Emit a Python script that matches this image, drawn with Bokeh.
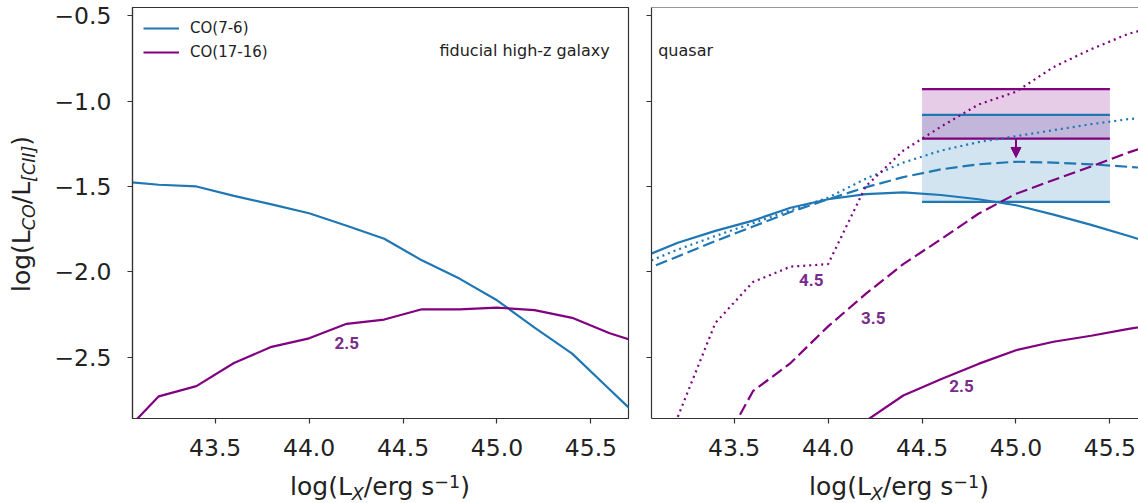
import math
from bokeh.plotting import figure
from bokeh.layouts import row, column
from bokeh.models import (Label, Legend, LegendItem, FixedTicker, CustomJSTickFormatter,
                          Arrow, NormalHead, Span, Range1d, Div)
from bokeh.embed import file_html
from bokeh.resources import INLINE

NaN = float("nan")

# ---------------- data ----------------
log_lx = [43.0, 43.2, 43.4, 43.6, 43.8, 44.0, 44.2, 44.4, 44.6, 44.8, 45.0, 45.2, 45.4, 45.6, 45.8]

# fiducial high-z galaxy
fid_co76 = [-1.47, -1.49, -1.50, -1.555, -1.605, -1.657, -1.73, -1.806, -1.933, -2.04, -2.167, -2.327, -2.48, -2.69, -2.90]
fid_co1716 = [-2.96, -2.73, -2.67, -2.535, -2.44, -2.39, -2.305, -2.28, -2.22, -2.22, -2.21, -2.225, -2.27, -2.36, -2.43]

# quasar (solid = 2.5, dashed = 3.5, dotted = 4.5)
q_co76_25 = [-1.92, -1.83, -1.76, -1.70, -1.625, -1.575, -1.545, -1.535, -1.55, -1.575, -1.61, -1.665, -1.725, -1.79, -1.86]
q_co76_35 = [-2.00, -1.91, -1.82, -1.735, -1.65, -1.575, -1.505, -1.445, -1.40, -1.37, -1.355, -1.36, -1.37, -1.385, -1.40]
q_co76_45 = [-1.96, -1.87, -1.79, -1.715, -1.64, -1.565, -1.455, -1.36, -1.29, -1.24, -1.205, -1.17, -1.135, -1.105, -1.09]
q_co1716_25 = [NaN, NaN, NaN, NaN, NaN, -3.05, -2.875, -2.725, -2.63, -2.54, -2.46, -2.41, -2.375, -2.335, -2.30]
q_co1716_35 = [NaN, NaN, -3.10, -2.70, -2.535, -2.32, -2.13, -1.955, -1.81, -1.66, -1.543, -1.462, -1.383, -1.30, -1.23]
q_co1716_45 = [NaN, -2.85, -2.30, -2.06, -1.97, -1.955, -1.50, -1.29, -1.15, -1.02, -0.945, -0.80, -0.695, -0.605, -0.545]

# observed quasar constraints
obs_x = [44.5, 45.5]
obs_co76 = [-1.59, -1.08]
obs_co1716 = [-1.22, -0.93]
obs_limit_x = 45.0
obs_limit_tip = -1.33

# inline curve labels
left_lab_text = ["2.5"]
left_lab_x = [44.20]
left_lab_y = [-2.42]
right_lab_text = ["4.5", "3.5", "2.5"]
right_lab_x = [43.91, 44.24, 44.71]
right_lab_y = [-2.05, -2.27, -2.67]

x_ticks = [43.5, 44.0, 44.5, 45.0, 45.5]
y_ticks = [-2.5, -2.0, -1.5, -1.0, -0.5]
X_LO, X_HI = 43.06, 45.70
Y_LO, Y_HI = -2.86, -0.451

legend_labels = ["CO(7-6)", "CO(17-16)"]
panel_titles = ["fiducial high-z galaxy", "quasar"]

# ---------------- style ----------------
FONT = "DejaVu Sans"
BLUE = "#1f77b4"
PURPLE = "#800080"
LABPURPLE = "#7a2a8a"
FRAME = "#333333"
TXT = "#222222"
LW = 2.2

FRAME_TOP = 7
FRAME_H = 411
BOTTOM = 50
SX = 496 / (X_HI - X_LO)          # px per x unit
SY = FRAME_H / (Y_HI - Y_LO)      # px per y unit
YDIV_W = 48


def py2y(py):
    return Y_HI - (py - FRAME_TOP) / SY


def make_fig(frame_left_page, frame_w, b_left, b_right):
    xr_hi = X_LO + frame_w / SX
    p = figure(frame_width=frame_w, frame_height=FRAME_H,
               x_range=Range1d(X_LO, xr_hi), y_range=Range1d(Y_LO, Y_HI),
               min_border_left=b_left, min_border_right=b_right,
               min_border_top=FRAME_TOP, min_border_bottom=BOTTOM,
               output_backend="svg", toolbar_location=None)
    p.grid.visible = False
    for ax in list(p.xaxis) + list(p.yaxis):
        ax.major_tick_in = 0
        ax.major_tick_out = 5
        ax.minor_tick_line_color = None
        ax.major_tick_line_color = FRAME
        ax.major_tick_line_width = 1.2
        ax.axis_line_color = FRAME
        ax.axis_line_width = 1.2
        ax.major_label_text_font = FONT
        ax.major_label_text_font_size = "23.5px"
        ax.major_label_text_color = TXT
    p.xaxis.ticker = FixedTicker(ticks=x_ticks)
    p.xaxis.formatter = CustomJSTickFormatter(code="return tick.toFixed(1);")
    p.xaxis.major_label_standoff = 15
    p.yaxis.ticker = FixedTicker(ticks=y_ticks)

    def px2x(px):
        return X_LO + (px - frame_left_page) / SX

    return p, px2x


# ---------------- left panel ----------------
p1, px2x1 = make_fig(132, 496, 132 - YDIV_W, 3)
p1.outline_line_color = FRAME
p1.outline_line_width = 1.2
p1.yaxis.formatter = CustomJSTickFormatter(code="return tick.toFixed(1).replace('-', '\u2212');")
p1.yaxis.major_label_standoff = 16

r1 = p1.line(log_lx, fid_co76, line_color=BLUE, line_width=LW)
r2 = p1.line(log_lx, fid_co1716, line_color=PURPLE, line_width=LW)

legend = Legend(items=[LegendItem(label=legend_labels[0], renderers=[r1]),
                       LegendItem(label=legend_labels[1], renderers=[r2])],
                location="top_left", border_line_color=None, background_fill_alpha=0,
                label_text_font=FONT, label_text_font_size="15px", label_text_color=TXT,
                glyph_width=36, glyph_height=20, label_height=20, spacing=4,
                padding=6, margin=11, label_standoff=11)
p1.add_layout(legend)

p1.add_layout(Label(x=45.60, y=py2y(50), text=panel_titles[0], text_font=FONT,
                    text_font_size="16px", text_color=TXT, text_align="right",
                    text_baseline="alphabetic"))

for t, x, y in zip(left_lab_text, left_lab_x, left_lab_y):
    p1.add_layout(Label(x=x, y=y, text=t, text_font="Roboto", text_font_style="bold",
                        text_font_size="17px", text_color=LABPURPLE,
                        text_align="center", text_baseline="middle"))

# ---------------- right panel ----------------
p2, px2x2 = make_fig(651, 487, 20, 0)
p2.outline_line_color = None
p2.yaxis.formatter = CustomJSTickFormatter(code="return '';")
p2.yaxis.major_label_standoff = 0
p2.add_layout(Span(location=Y_HI, dimension="width", line_color=FRAME, line_width=1.2))

p2.quad(left=[obs_x[0]], right=[obs_x[1]], bottom=[obs_co76[0]], top=[obs_co76[1]],
        fill_color=BLUE, fill_alpha=0.2, line_color=None)
p2.quad(left=[obs_x[0]], right=[obs_x[1]], bottom=[obs_co1716[0]], top=[obs_co1716[1]],
        fill_color=PURPLE, fill_alpha=0.2, line_color=None)
p2.segment(x0=[obs_x[0]] * 2, x1=[obs_x[1]] * 2, y0=obs_co76, y1=obs_co76,
           line_color=BLUE, line_width=LW)
p2.segment(x0=[obs_x[0]] * 2, x1=[obs_x[1]] * 2, y0=obs_co1716, y1=obs_co1716,
           line_color=PURPLE, line_width=LW)
p2.add_layout(Arrow(x_start=obs_limit_x, y_start=obs_co1716[0], x_end=obs_limit_x, y_end=obs_limit_tip,
                    line_color=PURPLE, line_width=2,
                    end=NormalHead(size=10, fill_color=PURPLE, line_color=PURPLE, line_width=1)))

p2.line(log_lx, q_co76_25, line_color=BLUE, line_width=LW)
p2.line(log_lx, q_co76_35, line_color=BLUE, line_width=LW, line_dash="12 5")
p2.line(log_lx, q_co76_45, line_color=BLUE, line_width=LW, line_dash="2 4")
p2.line(log_lx, q_co1716_25, line_color=PURPLE, line_width=LW)
p2.line(log_lx, q_co1716_35, line_color=PURPLE, line_width=LW, line_dash="12 5")
p2.line(log_lx, q_co1716_45, line_color=PURPLE, line_width=LW, line_dash="2 4")

for t, x, y in zip(right_lab_text, right_lab_x, right_lab_y):
    p2.add_layout(Label(x=x, y=y, text=t, text_font="Roboto", text_font_style="bold",
                        text_font_size="17px", text_color=LABPURPLE,
                        text_align="center", text_baseline="middle"))

p2.add_layout(Label(x=px2x2(657.7), y=py2y(50), text=panel_titles[1], text_font=FONT,
                    text_font_size="16px", text_color=TXT, text_align="left",
                    text_baseline="alphabetic"))

# ---------------- axis labels (HTML, with sub/superscripts) ----------------
BASE = "font-family:'DejaVu Sans';font-size:25px;line-height:25px;color:#222222;white-space:nowrap;"
SUB = "font-size:17.5px;font-style:italic;position:relative;top:5px;"
SUP = "font-size:17.5px;position:relative;top:-7px;"

xlabel_html = ("log(L<span style=\"" + SUB + "\">X</span>/erg s"
               "<span style=\"" + SUP + "\">\u22121</span>)")
ylabel_html = ("log(L<span style=\"" + SUB + "\">CO</span>/L"
               "<span style=\"" + SUB + "\">[CII]</span>)")

H_TOP = FRAME_TOP + FRAME_H + BOTTOM

ydiv = Div(width=YDIV_W, height=H_TOP, margin=(0, 0, 0, 0),
           text=("<div style=\"width:46px;height:428px;display:flex;align-items:center;"
                 "justify-content:center;\"><span style=\"display:inline-block;"
                 "transform:rotate(-90deg);" + BASE + "\">" + ylabel_html + "</span></div>"))

xdiv1 = Div(width=640, height=503 - H_TOP, margin=(0, 0, 0, 0),
            text=("<div style=\"margin-left:120px;width:520px;text-align:center;padding-top:6px;"
                  + BASE + "\">" + xlabel_html + "</div>"))
xdiv2 = Div(width=498, height=503 - H_TOP, margin=(0, 0, 0, 0),
            text=("<div style=\"margin-left:20px;width:478px;text-align:center;padding-top:6px;"
                  + BASE + "\">" + xlabel_html + "</div>"))

layout = column(row(ydiv, p1, p2), row(xdiv1, xdiv2))
open("out.html", "w").write(file_html(layout, INLINE))
